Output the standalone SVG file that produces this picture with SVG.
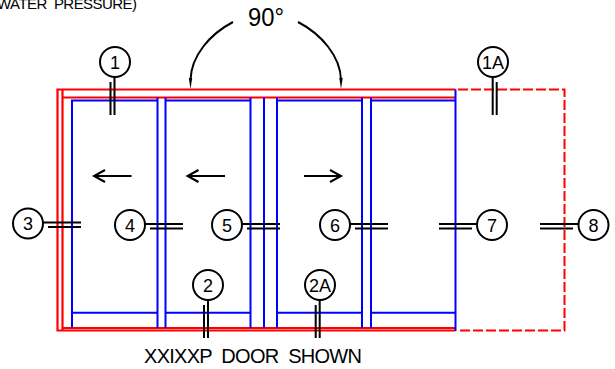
<svg xmlns="http://www.w3.org/2000/svg" width="615" height="369" viewBox="0 0 615 369">
<defs>
<style>
.r{fill:none;stroke:#ff0000;stroke-width:2.200}
.d{fill:none;stroke:#ff0000;stroke-width:2;stroke-dasharray:10 3}
.b{fill:none;stroke:#0000ff;stroke-width:2}
.k{fill:none;stroke:#000;stroke-width:2}
.c{fill:#fff;stroke:#000;stroke-width:2}
text{font-family:"Liberation Sans",Arial,sans-serif;fill:#000}
.n{font-size:18px;text-anchor:middle}
.t{font-size:20px}
</style>
<marker id="tip" markerUnits="userSpaceOnUse" markerWidth="12" markerHeight="6" refX="11" refY="3" orient="auto"><path d="M0 1L11 3L0 5Z" fill="#000"/></marker>
</defs>
<rect width="615" height="369" fill="#fff"/>
<g id="frame">
<path class="r" d="M455.500 89.500H57.500V330.500H62.500V89.500M62.500 97.500H455.500M62.500 330.500H455.500M62.500 328H455.500"/>
<path class="d" d="M458 89.500H564.500V330.500H458"/>
</g>
<g id="doors">
<path class="b" d="M72 327.500V100.500H157M165.500 100.500H250.500M277 100.500H362M371 100.500H455.500"/>
<path class="b" d="M157.500 97.500V328M165.500 97.500V328M250.500 97.500V328M264 97.500V328M277 97.500V328M362 97.500V328M371 97.500V328M455.500 89.500V331"/>
<path class="b" d="M72 312.700H157.500M165.500 312.700H250.500M277 312.700H362M371 312.700H455.500"/>
</g>
<g id="connectors">
<path class="k" d="M233 22C210 34 191 56 190.500 80" />
<path d="M188.800 78L192.200 78L190.500 89Z" fill="#000"/>
<path class="k" d="M298 22C321 34 340.500 56 341 80"/>
<path d="M339.300 78L342.700 78L341 89Z" fill="#000"/>
<path class="k" d="M131.500 176H94M105 170L94 176L105 182M225 176H187.500M198.500 170L187.500 176L198.500 182M304 176H341M330 170L341 176L330 182"/>
<path class="k" d="M114.500 77V115M110.500 82V115M492.700 77V115M496.700 82V115M208 300V338M204 305V338M319.700 300V338M315.700 305V338"/>
<path class="k" d="M43 222.500H81M48 227H81M145 224H183M150 228.500H183M242 224H280M247 228.500H280M350 224H388M355 228.500H388M477 224H439M472 228.500H439M578 224H540M573 228.500H540"/>
</g>
<g id="node-1"><circle class="c" cx="115" cy="62" r="15"/><text class="n" x="115" y="68.500">1</text></g>
<g id="node-1A"><circle class="c" cx="493" cy="62" r="15"/><text class="n" x="493" y="68.500">1A</text></g>
<g id="node-2"><circle class="c" cx="208" cy="285" r="15"/><text class="n" x="208" y="291.500">2</text></g>
<g id="node-2A"><circle class="c" cx="320" cy="285" r="15"/><text class="n" x="320" y="291.500">2A</text></g>
<g id="node-3"><circle class="c" cx="28" cy="223.500" r="15"/><text class="n" x="28" y="230">3</text></g>
<g id="node-4"><circle class="c" cx="130" cy="225" r="15"/><text class="n" x="130" y="231.500">4</text></g>
<g id="node-5"><circle class="c" cx="227" cy="225" r="15"/><text class="n" x="227" y="231.500">5</text></g>
<g id="node-6"><circle class="c" cx="335" cy="225" r="15"/><text class="n" x="335" y="231.500">6</text></g>
<g id="node-7"><circle class="c" cx="492" cy="225" r="15"/><text class="n" x="492" y="231.500">7</text></g>
<g id="node-8"><circle class="c" cx="593.500" cy="225" r="15"/><text class="n" x="593.500" y="231.500">8</text></g>
<g id="labels">
<text x="248" y="26" font-size="25" textLength="36" lengthAdjust="spacingAndGlyphs">90°</text>
<text class="t" x="144" y="363" textLength="218" lengthAdjust="spacing" xml:space="preserve">XXIXXP  DOOR  SHOWN</text>
<text x="-3" y="8.500" font-size="15" textLength="140" lengthAdjust="spacing" xml:space="preserve">WATER  PRESSURE)</text>
</g>
</svg>
